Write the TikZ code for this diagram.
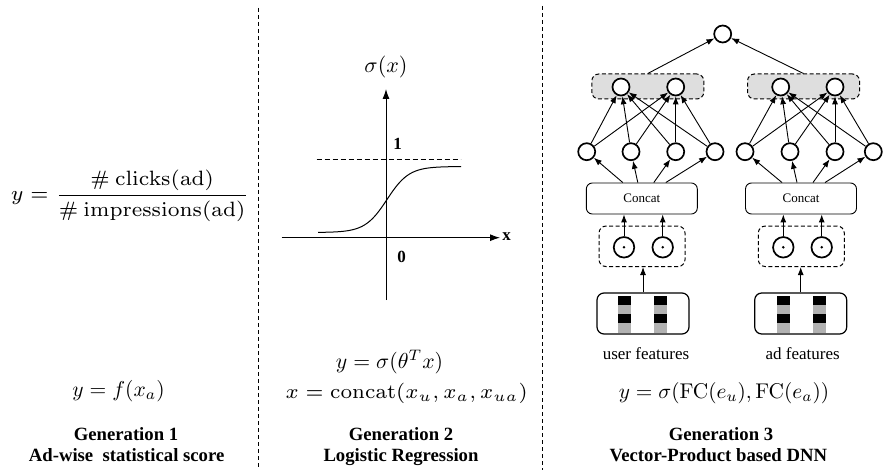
\RequirePackage{fix-cm}
\documentclass[tikz,border=0pt]{standalone}
\usepackage[no-math]{fontspec}
\setmainfont{Liberation Serif}[BoldFont={Liberation Serif Bold},ItalicFont={Liberation Serif Italic}]
\usetikzlibrary{arrows.meta}
\begin{document}
\begin{tikzpicture}[x=1pt,y=-1pt,
  neuron/.style={circle,draw,line width=1.7pt,minimum size=17pt,inner sep=0pt,fill=white},
  dotneuron/.style={circle,draw,line width=1.7pt,minimum size=20.5pt,inner sep=0pt},
  arr/.style={-{Latex[length=8pt,width=6pt]},line width=0.9pt},
  axisarr/.style={-{Latex[length=10pt,width=7pt]},line width=1pt},
  sep/.style={dash pattern=on 4pt off 3pt,line width=0.8pt},
  graybox/.style={draw,dash pattern=on 4pt off 2.5pt,rounded corners=7pt,fill=black!13,line width=1pt,minimum width=112pt,minimum height=25pt,inner sep=0pt},
  concatbox/.style={draw,rounded corners=6pt,line width=0.9pt,minimum width=111pt,minimum height=31pt,inner sep=0pt,font=\fontsize{13}{15}\selectfont},
  prodbox/.style={draw,dash pattern=on 4pt off 2.5pt,rounded corners=7pt,line width=1pt,minimum width=86pt,minimum height=40.5pt,inner sep=0pt},
  featbox/.style={draw,rounded corners=7pt,line width=1.2pt,minimum width=92pt,minimum height=41pt,inner sep=0pt},
  mathlbl/.style={inner sep=0pt,font=\fontsize{10}{12}\selectfont},
  widemath/.style={inner sep=0pt,font=\fontsize{7}{8.5}\selectfont},
  title/.style={inner sep=0pt,anchor=base,font=\fontsize{18.7}{21}\selectfont\bfseries},
  flabel/.style={inner sep=0pt,font=\fontsize{17}{20}\selectfont},
  axlbl/.style={inner sep=0pt,font=\fontsize{17}{20}\selectfont\bfseries},
]
\useasboundingbox (0,0) rectangle (885,470);

% separators
\draw[sep] (258.3,8) -- (258.3,470);
\draw[sep] (542.7,6) -- (542.7,470);

% ---------- Generation 1 ----------
\node[widemath] (frac) at (130,195.5) {\scalebox{2.96}{$y = \displaystyle\frac{\#\ \mathrm{clicks}(\mathrm{ad})}{\#\ \mathrm{impressions}(\mathrm{ad})}$}};
\node[mathlbl] (g1f) at (118.5,391) {\scalebox{2.15}{$y = f(x_a)$}};
\node[title] (g1t) at (126,440.7) {Generation 1};
\node[title] (g1s) at (126.6,461.7) {Ad-wise~ statistical score};

% ---------- Generation 2 ----------
\coordinate (yaxbot) at (386,300);
\coordinate (yaxtop) at (386,89);
\coordinate (xaxl) at (281.7,237.7);
\coordinate (xaxr) at (500,237.7);
\draw[axisarr] (yaxbot) -- (yaxtop);
\draw[axisarr] (xaxl) -- (xaxr);
\coordinate (dl) at (316.7,159.3);
\coordinate (dr) at (460.7,159.3);
\draw[dash pattern=on 5pt off 3pt,line width=0.8pt] (dl) -- (dr);
\draw[line width=1pt] plot[domain=318:461,samples=90,smooth] (\x,{232.5-66/(1+exp(-(\x-387)/11))});
\node[mathlbl] (sig) at (386,66.7) {\scalebox{2.2}{$\sigma(x)$}};
\node[axlbl] (one) at (397.7,144) {1};
\node[axlbl] (zero) at (401.7,257.3) {0};
\node[axlbl] (xl) at (506.7,236.7) {x};
\node[mathlbl] (g2f1) at (389.5,361.7) {\scalebox{2.17}{$y = \sigma(\theta^T x)$}};
\node[widemath] (g2f2) at (406.7,393.3) {\scalebox{2.92}{$x = \mathrm{concat}(x_u, x_a, x_{ua})$}};
\node[title] (g2t) at (401,440.7) {Generation 2};
\node[title] (g2s) at (401,461.7) {Logistic Regression};

% ---------- Generation 3 ----------
\node[graybox] (gb1) at (647.8,86.5) {};
\node[graybox] (gb2) at (803.5,86.5) {};
\node[neuron] (top) at (722.7,34) {};
\node[neuron] (b11) at (621,87) {};
\node[neuron] (b12) at (675.7,87) {};
\node[neuron] (b21) at (780.7,87) {};
\node[neuron] (b22) at (835,87) {};
\node[neuron] (h11) at (586.7,151.7) {};
\node[neuron] (h12) at (631,151.7) {};
\node[neuron] (h13) at (675.7,151.7) {};
\node[neuron] (h14) at (715,151.7) {};
\node[neuron] (h21) at (745,151.7) {};
\node[neuron] (h22) at (790,151.7) {};
\node[neuron] (h23) at (835,151.7) {};
\node[neuron] (h24) at (873.3,151.7) {};
\node[concatbox] (c1) at (641.8,198.5) {Concat};
\node[concatbox] (c2) at (801,198.5) {Concat};
\node[prodbox] (p1) at (642,246.3) {};
\node[prodbox] (p2) at (801.3,246.3) {};
\node[dotneuron] (d11) at (624,247.3) {};
\node[dotneuron] (d12) at (662.7,247.3) {};
\node[dotneuron] (d21) at (783.3,247.3) {};
\node[dotneuron] (d22) at (821.7,247.3) {};
\foreach \d in {d11,d12,d21,d22} \fill (\d) circle (1.4pt);
\node[featbox] (f1) at (643,313.5) {};
\node[featbox] (f2) at (800.7,313.5) {};
% feature bars
\foreach \a/\b in {618.3/631,654/666.7,777/789.7,813.3/826}{
  \fill[black] (\a,295.7) rectangle (\b,305);
  \fill[black!30] (\a,305) rectangle (\b,314.3);
  \fill[black] (\a,314.3) rectangle (\b,322.7);
  \fill[black!30] (\a,322.7) rectangle (\b,332.7);
}
\node[flabel] (uf) at (646,354) {user features};
\node[flabel] (af) at (802.7,354) {ad features};
\node[mathlbl] (g3f) at (724,393) {\scalebox{2.13}{$y = \sigma(\mathrm{FC}(e_u), \mathrm{FC}(e_a))$}};
\node[title] (g3t) at (721,440.7) {Generation 3};
\node[title] (g3s) at (718.3,461.7) {Vector-Product based DNN};

% connectors
\draw[arr] (gb1.north) -- (top);
\draw[arr] (gb2.north) -- (top);
\foreach \s in {1,2}{
  \foreach \h in {1,2,3,4}{
    \draw[arr] (h\s\h) -- (b\s1);
    \draw[arr] (h\s\h) -- (b\s2);
  }
  \draw[arr] ([xshift=-19pt]c\s.north) -- (h\s1);
  \draw[arr] ([xshift=-4pt]c\s.north) -- (h\s2);
  \draw[arr] ([xshift=12pt]c\s.north) -- (h\s3);
  \draw[arr] ([xshift=24pt]c\s.north) -- (h\s4);
  \draw[arr] (d\s1) -- (d\s1 |- c\s.south);
  \draw[arr] (d\s2) -- (d\s2 |- c\s.south);
  \draw[arr] (f\s.north) -- (f\s.north |- p\s.south);
}
\end{tikzpicture}
\end{document}
